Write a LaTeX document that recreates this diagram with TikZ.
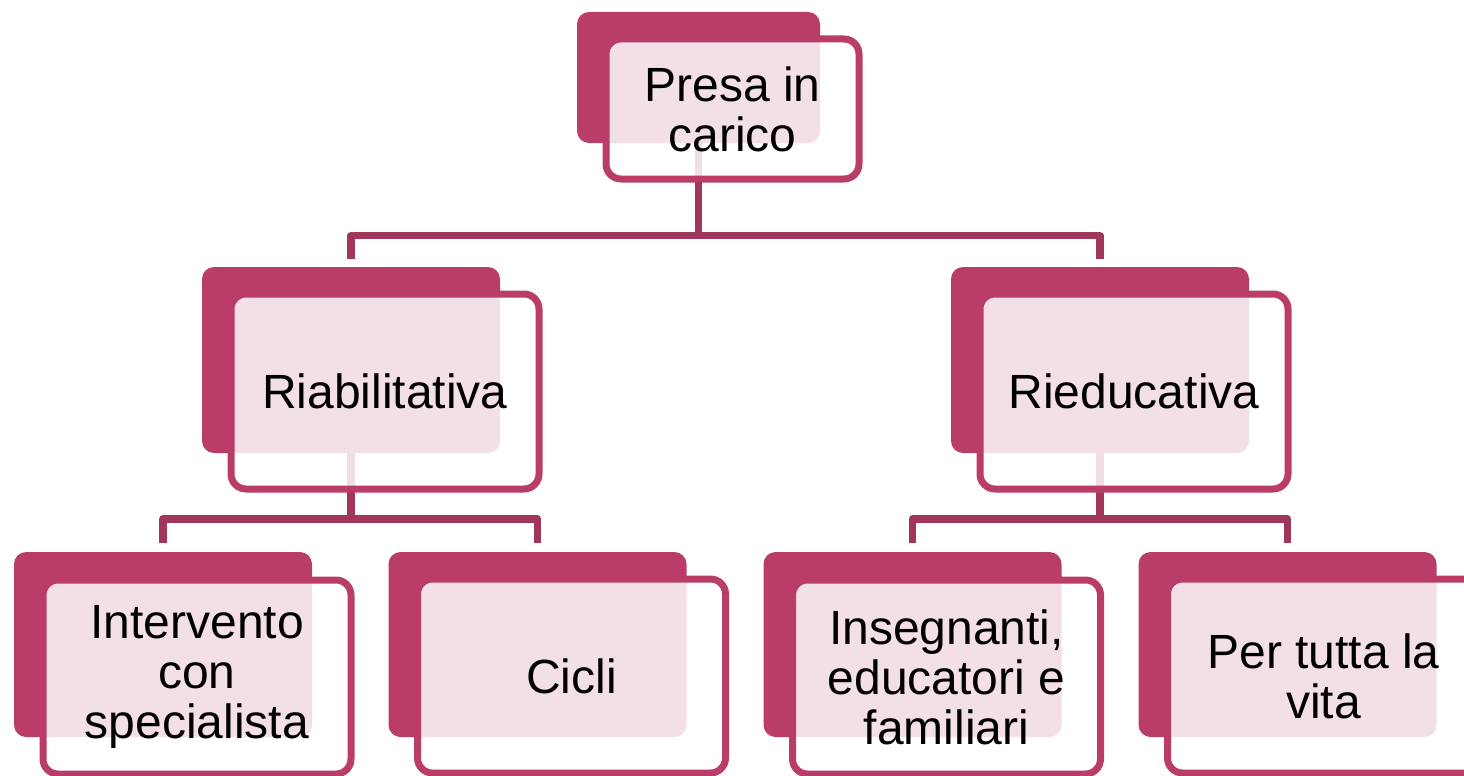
\documentclass[tikz,border=0pt]{standalone}
\usepackage{fontspec}
\setmainfont{Liberation Sans}
\definecolor{boxc}{HTML}{B93D68}
\definecolor{connc}{HTML}{A0375A}
\tikzset{
  backbox/.style={rectangle, rounded corners=12pt, fill=boxc, draw=none, inner sep=0pt},
  frontbox/.style={rectangle, rounded corners=15pt, draw=boxc, line width=7pt, fill=white, fill opacity=0.84, text opacity=1, inner sep=0pt, align=center, font=\fontsize{48}{50}\selectfont, text=black},
  conn/.style={draw=connc, line width=7.5pt, line join=round}
}
\begin{document}
\begin{tikzpicture}[x=1pt,y=-1pt]
\useasboundingbox (0,0) rectangle (1464,776);
% back boxes
\node[backbox, minimum width=243pt, minimum height=131pt] (topb) at (698.5,77.5) {};
\node[backbox, minimum width=298pt, minimum height=186pt] (riabb) at (351,360) {};
\node[backbox, minimum width=298pt, minimum height=186pt] (riedb) at (1100,360) {};
\node[backbox, minimum width=298pt, minimum height=185pt] (intb) at (163,644.5) {};
\node[backbox, minimum width=298pt, minimum height=185pt] (cicb) at (537.5,644.5) {};
\node[backbox, minimum width=298pt, minimum height=185pt] (insb) at (912.5,644.5) {};
\node[backbox, minimum width=298pt, minimum height=185pt] (perb) at (1287.5,644.5) {};
% connectors
\coordinate (j1) at (698.5,235.5);
\coordinate (j2) at (351,519);
\coordinate (j3) at (1100,519);
\draw[conn] (topb.south) -- (j1);
\draw[conn] ([yshift=8pt]riabb.north) |- (j1) -| ([yshift=8pt]riedb.north);
\draw[conn] (riabb.south) -- (j2);
\draw[conn] ([yshift=9pt]intb.north) |- (j2) -| ([yshift=9pt]cicb.north);
\draw[conn] (riedb.south) -- (j3);
\draw[conn] ([yshift=9pt]insb.north) |- (j3) -| ([yshift=9pt]perb.north);
% front boxes
\node[frontbox, minimum width=253pt, minimum height=140pt] (top) at (732.5,109) {Presa in\\carico};
\node[frontbox, minimum width=308pt, minimum height=195pt] (riab) at (385,391.5) {Riabilitativa};
\node[frontbox, minimum width=308pt, minimum height=195pt] (ried) at (1134,391.5) {Rieducativa};
\node[frontbox, minimum width=308pt, minimum height=194pt] (int) at (197,677) {Intervento\\con\\specialista};
\node[frontbox, minimum width=308pt, minimum height=194pt] (cic) at (571.5,676) {Cicli};
\node[frontbox, minimum width=308pt, minimum height=194pt] (ins) at (946.5,677) {Insegnanti,\\educatori e\\familiari};
\node[frontbox, minimum width=312pt, minimum height=194pt] (per) at (1323.5,676) {Per tutta la\\vita};
\end{tikzpicture}
\end{document}
